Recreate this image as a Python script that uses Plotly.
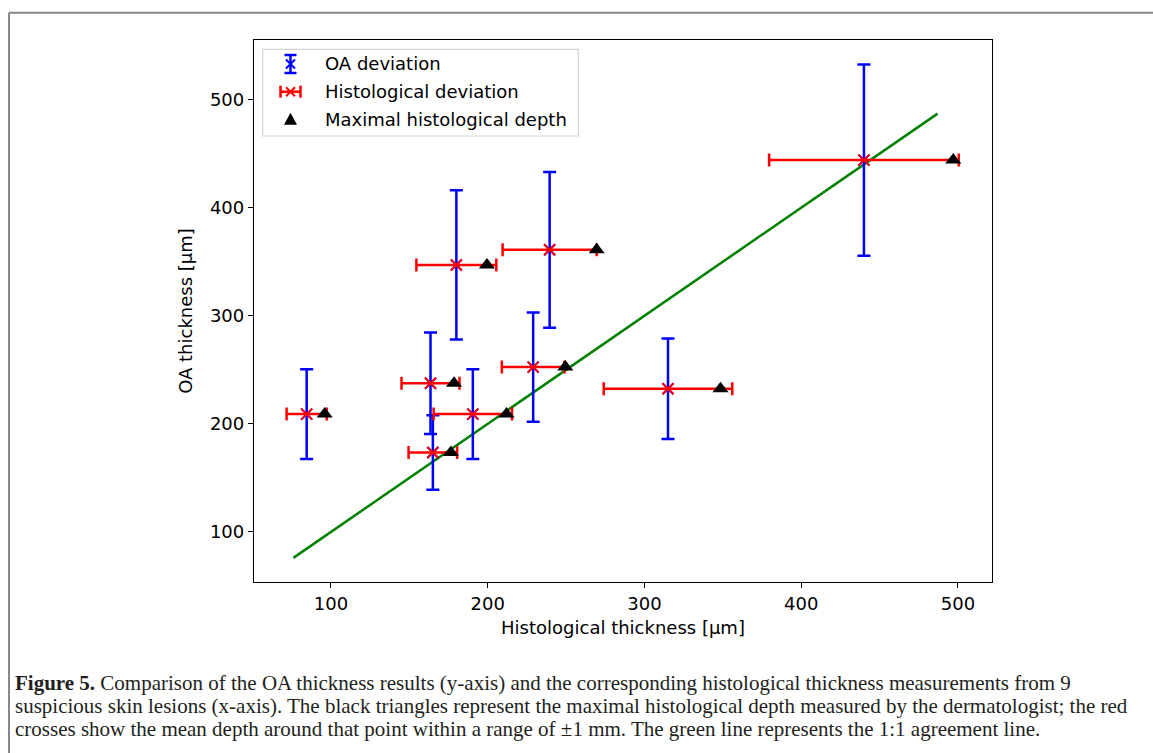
import plotly.graph_objects as go

# ---------------- data ----------------
hist_mean = [84.5, 163.5, 165.0, 190.5, 229.0, 180.0, 239.5, 440.0, 315.0]
hist_err = [12.8, 18.5, 15.5, 25.0, 20.0, 25.5, 30.0, 60.5, 41.0]
oa_thick = [209.0, 237.5, 173.5, 209.0, 252.5, 347.0, 361.0, 444.0, 232.5]
oa_err = [41.5, 47.0, 34.5, 41.5, 50.5, 69.0, 72.0, 88.5, 46.5]
hist_max = [96.0, 178.5, 176.5, 212.0, 249.5, 199.5, 269.5, 497.0, 348.5]
line_x = [76.0, 487.0]
line_y = [76.0, 487.0]
x_ticks = [100, 200, 300, 400, 500]
y_ticks = [100, 200, 300, 400, 500]
legend_labels = ["OA deviation", "Histological deviation", "Maximal histological depth"]
x_title = "Histological thickness [μm]"
y_title = "OA thickness [μm]"
caption_lines = [
    "<b>Figure 5.</b> Comparison of the OA thickness results (y-axis) and the corresponding histological thickness measurements from 9",
    "suspicious skin lesions (x-axis). The black triangles represent the maximal histological depth measured by the dermatologist; the red",
    "crosses show the mean depth around that point within a range of ±1 mm. The green line represents the 1:1 agreement line.",
]

W, H = 1153, 753
L, R, T, B = 254, 992, 40, 582


def pxx(px):
    return (px - L) / (R - L)


def pxy(py):
    return (B - py) / (B - T)


BLUE = "#0000ff"
RED = "#ff0000"
GREEN = "#008000"
FONT = "DejaVu Sans"

fig = go.Figure()

fig.add_trace(go.Scatter(x=line_x, y=line_y, mode="lines",
                         line=dict(color=GREEN, width=2.5), showlegend=False,
                         hoverinfo="skip"))
fig.add_trace(go.Scatter(x=hist_mean, y=oa_thick, mode="markers",
                         marker=dict(symbol="x-thin", size=11, color=BLUE,
                                     line=dict(color=BLUE, width=2)),
                         error_y=dict(type="data", array=oa_err, visible=True,
                                      color=BLUE, thickness=2.5, width=6.5),
                         showlegend=False))
fig.add_trace(go.Scatter(x=hist_mean, y=oa_thick, mode="markers",
                         marker=dict(symbol="x-thin", size=11, color=RED,
                                     line=dict(color=RED, width=2)),
                         error_x=dict(type="data", array=hist_err, visible=True,
                                      color=RED, thickness=2.5, width=6.5),
                         showlegend=False))
fig.add_trace(go.Scatter(x=hist_max, y=oa_thick, mode="markers",
                         marker=dict(symbol="triangle-up", size=14, color="black",
                                     line=dict(width=0)),
                         showlegend=False))

shapes = []
# page frame (top & left)
shapes.append(dict(type="line", xref="paper", yref="paper",
                   x0=pxx(9), x1=pxx(W + 5), y0=pxy(12.7), y1=pxy(12.7),
                   line=dict(color="#888888", width=2)))
shapes.append(dict(type="line", xref="paper", yref="paper",
                   x0=pxx(9), x1=pxx(9), y0=pxy(12.7), y1=pxy(H + 5),
                   line=dict(color="#888888", width=2)))

# manual legend box
lx0, lx1, ly0, ly1 = 262.7, 578.3, 49.3, 136.0
shapes.append(dict(type="rect", xref="paper", yref="paper",
                   x0=pxx(lx0), x1=pxx(lx1), y0=pxy(ly0), y1=pxy(ly1),
                   line=dict(color="#d4d4d4", width=1.2), fillcolor="white",
                   layer="above"))
icx = 290.5
rows = [64.0, 91.7, 119.3]


def seg(x0, y0, x1, y1, color, width=2.5):
    return dict(type="line", xref="paper", yref="paper",
                x0=pxx(x0), x1=pxx(x1), y0=pxy(y0), y1=pxy(y1),
                line=dict(color=color, width=width), layer="above")


# OA deviation icon
r = rows[0]
shapes.append(seg(icx, r - 9, icx, r + 9, BLUE))
shapes.append(seg(icx - 6, r - 9, icx + 6, r - 9, BLUE))
shapes.append(seg(icx - 6, r + 9, icx + 6, r + 9, BLUE))
shapes.append(seg(icx - 4.5, r - 4.5, icx + 4.5, r + 4.5, BLUE, 2))
shapes.append(seg(icx - 4.5, r + 4.5, icx + 4.5, r - 4.5, BLUE, 2))
# Histological deviation icon
r = rows[1]
shapes.append(seg(icx - 10, r, icx + 10, r, RED))
shapes.append(seg(icx - 10, r - 6, icx - 10, r + 6, RED))
shapes.append(seg(icx + 10, r - 6, icx + 10, r + 6, RED))
shapes.append(seg(icx - 4.5, r - 4.5, icx + 4.5, r + 4.5, RED, 2))
shapes.append(seg(icx - 4.5, r + 4.5, icx + 4.5, r - 4.5, RED, 2))
# Triangle icon
r = rows[2]
tri = "M {a},{b} L {c},{b} L {d},{e} Z".format(
    a=pxx(icx - 6.5), b=pxy(r + 5.5), c=pxx(icx + 6.5), d=pxx(icx), e=pxy(r - 6.5))
shapes.append(dict(type="path", xref="paper", yref="paper", path=tri,
                   fillcolor="black", line=dict(width=0), layer="above"))

annotations = []
for lab, ry in zip(legend_labels, rows):
    annotations.append(dict(text=lab, xref="paper", yref="paper",
                            x=pxx(322.7), y=pxy(ry), xanchor="left", yanchor="middle",
                            showarrow=False, font=dict(family=FONT, size=18, color="black")))

cap_y = [683, 706, 729]
for txt, cy in zip(caption_lines, cap_y):
    annotations.append(dict(text=txt, xref="paper", yref="paper",
                            x=pxx(13), y=pxy(cy), xanchor="left", yanchor="middle",
                            showarrow=False,
                            font=dict(family="Liberation Serif", size=21, color="#231f20")))

fig.update_layout(
    width=W, height=H,
    margin=dict(l=L, r=W - R, t=T, b=H - B, pad=0),
    paper_bgcolor="white", plot_bgcolor="white",
    font=dict(family=FONT, size=18, color="black"),
    shapes=shapes, annotations=annotations, showlegend=False,
    xaxis=dict(range=[50.9, 521.7], tickvals=x_ticks, ticks="outside", ticklen=5,
               tickwidth=1.3, tickcolor="black", showline=True, linecolor="black",
               linewidth=1.3, mirror=True, showgrid=False, zeroline=False,
               title=dict(text=x_title, standoff=8, font=dict(size=18))),
    yaxis=dict(range=[53.7, 555.1], tickvals=y_ticks, ticks="outside", ticklen=5,
               tickwidth=1.3, tickcolor="black", showline=True, linecolor="black",
               linewidth=1.3, mirror=True, showgrid=False, zeroline=False,
               title=dict(text=y_title, standoff=12, font=dict(size=18))),
)

fig.write_html("out.html", config={"displayModeBar": False},
               post_script="document.body.style.margin='0px';")
